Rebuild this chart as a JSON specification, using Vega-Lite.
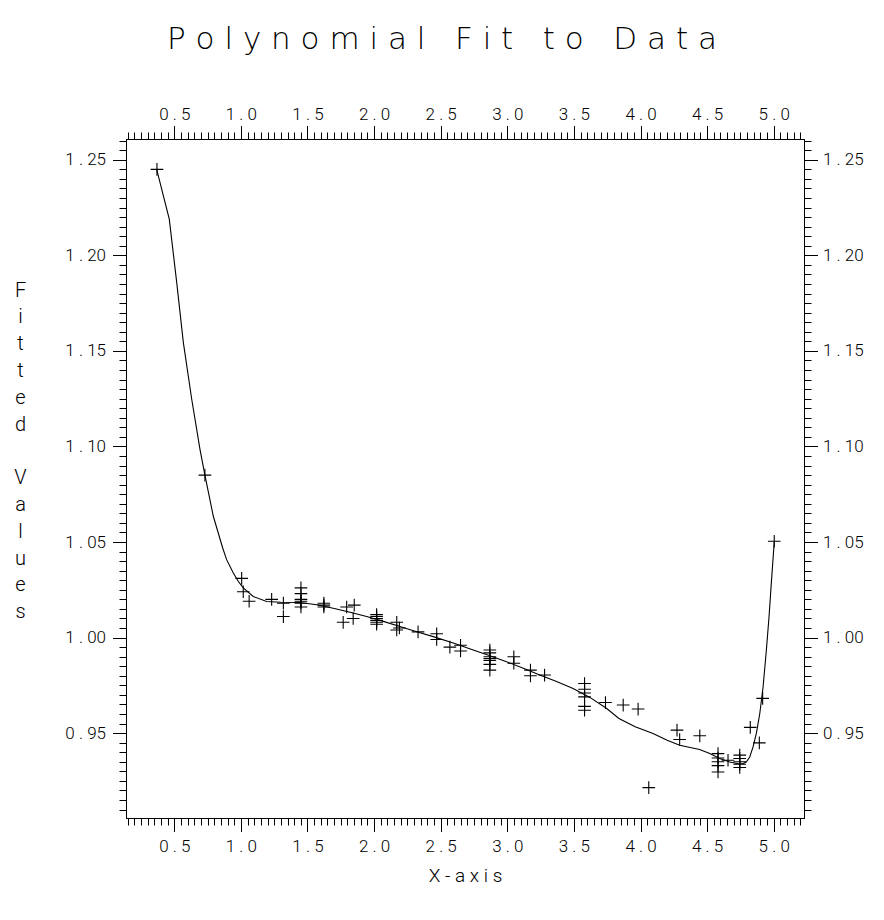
{
  "$schema": "https://vega.github.io/schema/vega-lite/v6.json",
  "width": 678,
  "height": 679,
  "autosize": {"type": "none"},
  "padding": {"left": 126, "top": 139, "right": 80, "bottom": 102},
  "background": "white",
  "title": {
    "text": "P o l y n o m i a l \u00a0 F i t \u00a0 t o \u00a0 D a t a",
    "anchor": "middle",
    "frame": "group",
    "dx": -23,
    "baseline": "alphabetic",
    "offset": 26,
    "font": "DejaVu Sans",
    "fontSize": 31,
    "fontWeight": 200,
    "color": "black"
  },
  "datasets": {
    "points": [
      {"x": 0.37, "y": 1.245},
      {"x": 0.73, "y": 1.085},
      {"x": 1.006, "y": 1.031},
      {"x": 1.018, "y": 1.024},
      {"x": 1.062, "y": 1.019},
      {"x": 1.231, "y": 1.020},
      {"x": 1.319, "y": 1.018},
      {"x": 1.319, "y": 1.011},
      {"x": 1.451, "y": 1.026},
      {"x": 1.451, "y": 1.023},
      {"x": 1.451, "y": 1.020},
      {"x": 1.451, "y": 1.019},
      {"x": 1.451, "y": 1.018},
      {"x": 1.451, "y": 1.016},
      {"x": 1.623, "y": 1.018},
      {"x": 1.623, "y": 1.017},
      {"x": 1.623, "y": 1.016},
      {"x": 1.794, "y": 1.016},
      {"x": 1.851, "y": 1.017},
      {"x": 1.768, "y": 1.008},
      {"x": 1.843, "y": 1.010},
      {"x": 2.019, "y": 1.012},
      {"x": 2.019, "y": 1.011},
      {"x": 2.019, "y": 1.010},
      {"x": 2.019, "y": 1.009},
      {"x": 2.019, "y": 1.008},
      {"x": 2.019, "y": 1.007},
      {"x": 2.17, "y": 1.008},
      {"x": 2.19, "y": 1.005},
      {"x": 2.17, "y": 1.004},
      {"x": 2.33, "y": 1.003},
      {"x": 2.47, "y": 1.002},
      {"x": 2.47, "y": 0.999},
      {"x": 2.569, "y": 0.995},
      {"x": 2.649, "y": 0.996},
      {"x": 2.649, "y": 0.993},
      {"x": 2.869, "y": 0.9935},
      {"x": 2.869, "y": 0.992},
      {"x": 2.869, "y": 0.990},
      {"x": 2.869, "y": 0.989},
      {"x": 2.869, "y": 0.988},
      {"x": 2.869, "y": 0.986},
      {"x": 2.869, "y": 0.983},
      {"x": 3.049, "y": 0.990},
      {"x": 3.049, "y": 0.9866},
      {"x": 3.174, "y": 0.983},
      {"x": 3.174, "y": 0.980},
      {"x": 3.28, "y": 0.9804},
      {"x": 3.58, "y": 0.976},
      {"x": 3.58, "y": 0.973},
      {"x": 3.58, "y": 0.971},
      {"x": 3.58, "y": 0.969},
      {"x": 3.58, "y": 0.964},
      {"x": 3.58, "y": 0.962},
      {"x": 3.737, "y": 0.966},
      {"x": 3.87, "y": 0.9647},
      {"x": 3.982, "y": 0.9626},
      {"x": 4.062, "y": 0.9215},
      {"x": 4.274, "y": 0.9516},
      {"x": 4.294, "y": 0.9467},
      {"x": 4.445, "y": 0.9486},
      {"x": 4.582, "y": 0.9393},
      {"x": 4.582, "y": 0.937},
      {"x": 4.582, "y": 0.935},
      {"x": 4.582, "y": 0.933},
      {"x": 4.582, "y": 0.9297},
      {"x": 4.657, "y": 0.9358},
      {"x": 4.745, "y": 0.9385},
      {"x": 4.745, "y": 0.9367},
      {"x": 4.745, "y": 0.935},
      {"x": 4.745, "y": 0.9337},
      {"x": 4.745, "y": 0.932},
      {"x": 4.824, "y": 0.953},
      {"x": 4.892, "y": 0.9449},
      {"x": 4.917, "y": 0.9682},
      {"x": 5.004, "y": 1.0504}
    ],
    "fit": [
      {"x": 0.368, "y": 1.245},
      {"x": 0.4625, "y": 1.219},
      {"x": 0.518, "y": 1.186},
      {"x": 0.568, "y": 1.1545},
      {"x": 0.631, "y": 1.1247},
      {"x": 0.693, "y": 1.0985},
      {"x": 0.73, "y": 1.085},
      {"x": 0.793, "y": 1.0635},
      {"x": 0.863, "y": 1.047},
      {"x": 0.893, "y": 1.0408},
      {"x": 0.943, "y": 1.0338},
      {"x": 0.98, "y": 1.0295},
      {"x": 1.018, "y": 1.026},
      {"x": 1.093, "y": 1.0215},
      {"x": 1.193, "y": 1.0189},
      {"x": 1.3, "y": 1.0185},
      {"x": 1.443, "y": 1.0184},
      {"x": 1.57, "y": 1.0172},
      {"x": 1.693, "y": 1.0154},
      {"x": 1.82, "y": 1.0133},
      {"x": 1.944, "y": 1.011},
      {"x": 2.07, "y": 1.0085},
      {"x": 2.194, "y": 1.0058},
      {"x": 2.32, "y": 1.0031},
      {"x": 2.444, "y": 1.0005},
      {"x": 2.6, "y": 0.997},
      {"x": 2.744, "y": 0.9935},
      {"x": 2.87, "y": 0.9905},
      {"x": 2.994, "y": 0.9874},
      {"x": 3.12, "y": 0.984},
      {"x": 3.244, "y": 0.9804},
      {"x": 3.37, "y": 0.977},
      {"x": 3.494, "y": 0.9734},
      {"x": 3.62, "y": 0.9687},
      {"x": 3.744, "y": 0.963},
      {"x": 3.838, "y": 0.9577},
      {"x": 3.96, "y": 0.9533},
      {"x": 4.094, "y": 0.9498},
      {"x": 4.2, "y": 0.9463},
      {"x": 4.294, "y": 0.9437},
      {"x": 4.444, "y": 0.9414},
      {"x": 4.52, "y": 0.9393},
      {"x": 4.594, "y": 0.9367},
      {"x": 4.67, "y": 0.9349},
      {"x": 4.733, "y": 0.934},
      {"x": 4.77, "y": 0.934},
      {"x": 4.795, "y": 0.935},
      {"x": 4.82, "y": 0.9375},
      {"x": 4.845, "y": 0.9428},
      {"x": 4.87, "y": 0.950},
      {"x": 4.895, "y": 0.960},
      {"x": 4.92, "y": 0.974},
      {"x": 4.945, "y": 0.9935},
      {"x": 4.965, "y": 1.011},
      {"x": 4.982, "y": 1.0285},
      {"x": 5.004, "y": 1.050}
    ]
  },
  "resolve": {"axis": {"x": "independent", "y": "independent"}},
  "layer": [
    {
      "data": {"name": "points"},
      "mark": {"type": "point", "shape": "M-1,0L1,0M0,-1L0,1", "filled": false, "size": 160, "stroke": "black", "strokeWidth": 1.1, "opacity": 1},
      "encoding": {
        "x": {"field": "x", "type": "quantitative",
          "scale": {"domain": [0.1376, 5.2274], "nice": false, "zero": false},
          "axis": {"orient": "bottom", "values": [0.5, 1, 1.5, 2, 2.5, 3, 3.5, 4, 4.5, 5],
            "tickSize": 13.5, "labelPadding": 7,
            "labelExpr": "replace(format(datum.value, '.1f'), '.', ' . ')",
            "title": "X - a x i s", "titlePadding": 12, "titleFontSize": 19}},
        "y": {"field": "y", "type": "quantitative",
          "scale": {"domain": [0.9056, 1.2609], "nice": false, "zero": false},
          "axis": {"orient": "left", "values": [0.95, 1, 1.05, 1.1, 1.15, 1.2, 1.25],
            "tickSize": 13.5, "labelPadding": 7,
            "labelExpr": "replace(format(datum.value, '.2f'), '.', ' . ')",
            "title": ["F", "i", "t", "t", "e", "d", "\u2800", "V", "a", "l", "u", "e", "s"],
            "titleAngle": 0, "titleX": -106, "titleY": 151, "titleAlign": "center", "titleBaseline": "middle",
            "titleLineHeight": 26.8, "titleFontSize": 20}}
      }
    },
    {
      "data": {"name": "fit"},
      "mark": {"type": "line", "stroke": "black", "strokeWidth": 1.1, "interpolate": "linear"},
      "encoding": {
        "x": {"field": "x", "type": "quantitative",
          "scale": {"domain": [0.1376, 5.2274], "nice": false, "zero": false},
          "axis": {"orient": "bottom", "values": [0.15,0.2,0.25,0.3,0.35,0.4,0.45,0.5,0.55,0.6,0.65,0.7,0.75,0.8,0.85,0.9,0.95,1,1.05,1.1,1.15,1.2,1.25,1.3,1.35,1.4,1.45,1.5,1.55,1.6,1.65,1.7,1.75,1.8,1.85,1.9,1.95,2,2.05,2.1,2.15,2.2,2.25,2.3,2.35,2.4,2.45,2.5,2.55,2.6,2.65,2.7,2.75,2.8,2.85,2.9,2.95,3,3.05,3.1,3.15,3.2,3.25,3.3,3.35,3.4,3.45,3.5,3.55,3.6,3.65,3.7,3.75,3.8,3.85,3.9,3.95,4,4.05,4.1,4.15,4.2,4.25,4.3,4.35,4.4,4.45,4.5,4.55,4.6,4.65,4.7,4.75,4.8,4.85,4.9,4.95,5,5.05,5.1,5.15,5.2],
            "tickSize": 7, "labels": false, "title": null}},
        "y": {"field": "y", "type": "quantitative",
          "scale": {"domain": [0.9056, 1.2609], "nice": false, "zero": false},
          "axis": {"orient": "left", "values": [0.91,0.915,0.92,0.925,0.93,0.935,0.94,0.945,0.95,0.955,0.96,0.965,0.97,0.975,0.98,0.985,0.99,0.995,1,1.005,1.01,1.015,1.02,1.025,1.03,1.035,1.04,1.045,1.05,1.055,1.06,1.065,1.07,1.075,1.08,1.085,1.09,1.095,1.1,1.105,1.11,1.115,1.12,1.125,1.13,1.135,1.14,1.145,1.15,1.155,1.16,1.165,1.17,1.175,1.18,1.185,1.19,1.195,1.2,1.205,1.21,1.215,1.22,1.225,1.23,1.235,1.24,1.245,1.25,1.255,1.26],
            "tickSize": 7, "labels": false, "title": null}}
      }
    },
    {
      "data": {"name": "points"},
      "mark": {"type": "point", "opacity": 0},
      "encoding": {
        "x": {"field": "x", "type": "quantitative",
          "scale": {"domain": [0.1376, 5.2274], "nice": false, "zero": false},
          "axis": {"orient": "top", "values": [0.5, 1, 1.5, 2, 2.5, 3, 3.5, 4, 4.5, 5],
            "tickSize": 13.5, "labelPadding": 2,
            "labelExpr": "replace(format(datum.value, '.1f'), '.', ' . ')",
            "title": null}},
        "y": {"field": "y", "type": "quantitative",
          "scale": {"domain": [0.9056, 1.2609], "nice": false, "zero": false},
          "axis": {"orient": "right", "values": [0.95, 1, 1.05, 1.1, 1.15, 1.2, 1.25],
            "tickSize": 13.5, "labelPadding": 5,
            "labelExpr": "replace(format(datum.value, '.2f'), '.', ' . ')",
            "title": null}}
      }
    },
    {
      "data": {"name": "points"},
      "mark": {"type": "point", "opacity": 0},
      "encoding": {
        "x": {"field": "x", "type": "quantitative",
          "scale": {"domain": [0.1376, 5.2274], "nice": false, "zero": false},
          "axis": {"orient": "top", "values": [0.15,0.2,0.25,0.3,0.35,0.4,0.45,0.5,0.55,0.6,0.65,0.7,0.75,0.8,0.85,0.9,0.95,1,1.05,1.1,1.15,1.2,1.25,1.3,1.35,1.4,1.45,1.5,1.55,1.6,1.65,1.7,1.75,1.8,1.85,1.9,1.95,2,2.05,2.1,2.15,2.2,2.25,2.3,2.35,2.4,2.45,2.5,2.55,2.6,2.65,2.7,2.75,2.8,2.85,2.9,2.95,3,3.05,3.1,3.15,3.2,3.25,3.3,3.35,3.4,3.45,3.5,3.55,3.6,3.65,3.7,3.75,3.8,3.85,3.9,3.95,4,4.05,4.1,4.15,4.2,4.25,4.3,4.35,4.4,4.45,4.5,4.55,4.6,4.65,4.7,4.75,4.8,4.85,4.9,4.95,5,5.05,5.1,5.15,5.2],
            "tickSize": 7, "labels": false, "title": null}},
        "y": {"field": "y", "type": "quantitative",
          "scale": {"domain": [0.9056, 1.2609], "nice": false, "zero": false},
          "axis": {"orient": "right", "values": [0.91,0.915,0.92,0.925,0.93,0.935,0.94,0.945,0.95,0.955,0.96,0.965,0.97,0.975,0.98,0.985,0.99,0.995,1,1.005,1.01,1.015,1.02,1.025,1.03,1.035,1.04,1.045,1.05,1.055,1.06,1.065,1.07,1.075,1.08,1.085,1.09,1.095,1.1,1.105,1.11,1.115,1.12,1.125,1.13,1.135,1.14,1.145,1.15,1.155,1.16,1.165,1.17,1.175,1.18,1.185,1.19,1.195,1.2,1.205,1.21,1.215,1.22,1.225,1.23,1.235,1.24,1.245,1.25,1.255,1.26],
            "tickSize": 7, "labels": false, "title": null}}
      }
    }
  ],
  "config": {
    "view": {"stroke": "black", "strokeWidth": 1},
    "axis": {
      "grid": false,
      "domain": true,
      "domainColor": "black",
      "domainWidth": 1,
      "tickColor": "black",
      "tickWidth": 1,
      "labelColor": "black",
      "labelFont": "Roboto",
      "labelFontSize": 17,
      "labelFontWeight": 300,
      "labelOverlap": false,
      "labelFlush": false,
      "titleColor": "black",
      "titleFont": "Roboto",
      "titleFontWeight": 300
    }
  }
}
